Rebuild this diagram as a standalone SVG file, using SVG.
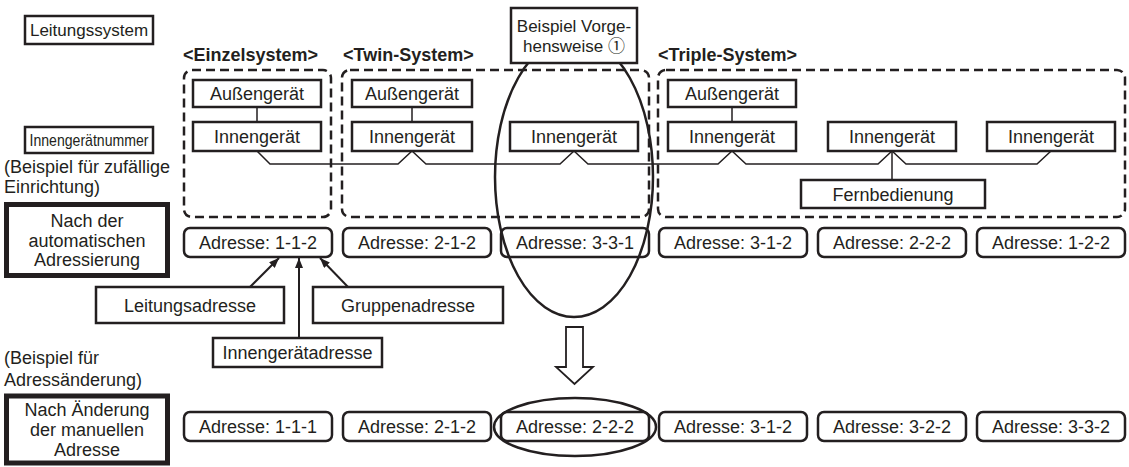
<svg xmlns="http://www.w3.org/2000/svg" width="1129" height="467" viewBox="0 0 1129 467">
<defs>
<style>
text{font-family:"Liberation Sans","Noto Sans CJK JP",sans-serif;font-size:18px;fill:#231f20;text-anchor:middle}
.l{text-anchor:start}
.h{font-weight:bold;text-anchor:start}
.box{fill:#fff;stroke:#231f20;stroke-width:2.5}
.thick{fill:#fff;stroke:#231f20;stroke-width:5}
.adr{fill:#fff;stroke:#231f20;stroke-width:2.5}
.dash{fill:none;stroke:#231f20;stroke-width:2.5;stroke-dasharray:9 5}
.ln{fill:none;stroke:#231f20;stroke-width:1.5}
.arr{fill:none;stroke:#231f20;stroke-width:2}
.ell{fill:none;stroke:#231f20;stroke-width:2.5}
</style>
<marker id="ah" markerUnits="userSpaceOnUse" markerWidth="10" markerHeight="8" refX="10" refY="4" orient="auto">
<path d="M0,0 L10,4 L0,8 z" fill="#231f20"/>
</marker>
</defs>
<rect width="1129" height="467" fill="#fff"/>

<g id="labels">
<rect class="box" x="25" y="16" width="128" height="28"/>
<text x="89" y="36" style="font-size:17px">Leitungssystem</text>
<rect class="box" x="25" y="127" width="128" height="26"/>
<text x="89" y="146" style="font-size:17px" textLength="119" lengthAdjust="spacingAndGlyphs">Innengerätnummer</text>
<text class="l" x="4" y="173">(Beispiel für zufällige</text>
<text class="l" x="4" y="193">Einrichtung)</text>
<text class="l" x="4" y="364">(Beispiel für</text>
<text class="l" x="4" y="386">Adressänderung)</text>
</g>

<g id="headers">
<text class="h" x="183" y="61">&lt;Einzelsystem&gt;</text>
<text class="h" x="343" y="61">&lt;Twin-System&gt;</text>
<text class="h" x="658" y="61">&lt;Triple-System&gt;</text>
</g>

<g id="system-frames">
<rect class="dash" x="184" y="70" width="147" height="147" rx="8"/>
<rect class="dash" x="342" y="70" width="307" height="147" rx="8"/>
<rect class="dash" x="658" y="70" width="467" height="147" rx="8"/>
</g>

<g id="connectors">
<path class="ln" d="M257,107 V122 M412,107 V122 M732,107 V122"/>
<path class="ln" d="M257,151 L270,164 H398 L412,151 L426,164 H560 L574,151 L588,164 H718 L732,151 L746,164 H878 L892,151 L906,164 H1037 L1051,151"/>
<path class="ln" d="M892,151 V180"/>
<path class="arr" d="M250,287 L279,258" marker-end="url(#ah)"/>
<path class="arr" d="M299,338 V258" marker-end="url(#ah)"/>
<path class="arr" d="M348,287 L320,258" marker-end="url(#ah)"/>
<path d="M566,327 H583 V367 H593 L574.5,384 L556,367 H566 Z" fill="#fff" stroke="#231f20" stroke-width="1.8" stroke-linejoin="miter"/>
</g>

<g id="einzel-aussen"><rect class="box" x="193" y="80" width="128" height="27"/><text x="257" y="100">Außengerät</text></g>
<g id="einzel-innen"><rect class="box" x="193" y="122" width="128" height="29"/><text x="257" y="143">Innengerät</text></g>
<g id="twin-aussen"><rect class="box" x="352" y="80" width="120" height="27"/><text x="412" y="100">Außengerät</text></g>
<g id="twin-innen1"><rect class="box" x="352" y="122" width="120" height="29"/><text x="412" y="143">Innengerät</text></g>
<g id="twin-innen2"><rect class="box" x="510" y="122" width="128" height="29"/><text x="574" y="143">Innengerät</text></g>
<g id="triple-aussen"><rect class="box" x="668" y="80" width="128" height="27"/><text x="732" y="100">Außengerät</text></g>
<g id="triple-innen1"><rect class="box" x="668" y="122" width="128" height="29"/><text x="732" y="143">Innengerät</text></g>
<g id="triple-innen2"><rect class="box" x="828" y="122" width="128" height="29"/><text x="892" y="143">Innengerät</text></g>
<g id="triple-innen3"><rect class="box" x="987" y="122" width="128" height="29"/><text x="1051" y="143">Innengerät</text></g>
<g id="fernbedienung"><rect class="box" x="801" y="180" width="184" height="28"/><text x="893" y="200.5">Fernbedienung</text></g>

<g id="auto-label"><rect class="thick" x="6.5" y="204.5" width="161" height="71"/>
<text x="87" y="227">Nach der</text><text x="87" y="247">automatischen</text><text x="87" y="266">Adressierung</text></g>
<g id="manual-label"><rect class="thick" x="6.5" y="396" width="161" height="67"/>
<text x="87" y="416">Nach Änderung</text><text x="87" y="436">der manuellen</text><text x="87" y="456">Adresse</text></g>

<g id="adr-row1">
<rect class="adr" x="184" y="228" width="148" height="29" rx="6"/><text x="258" y="249">Adresse: 1-1-2</text>
<rect class="adr" x="343" y="228" width="148" height="29" rx="6"/><text x="417" y="249">Adresse: 2-1-2</text>
<rect class="adr" x="501" y="228" width="148" height="29" rx="6"/><text x="575" y="249">Adresse: 3-3-1</text>
<rect class="adr" x="659" y="228" width="148" height="29" rx="6"/><text x="733" y="249">Adresse: 3-1-2</text>
<rect class="adr" x="818" y="228" width="148" height="29" rx="6"/><text x="892" y="249">Adresse: 2-2-2</text>
<rect class="adr" x="977" y="228" width="148" height="29" rx="6"/><text x="1051" y="249">Adresse: 1-2-2</text>
</g>
<g id="adr-row2">
<rect class="adr" x="184" y="412" width="148" height="29" rx="6"/><text x="258" y="433">Adresse: 1-1-1</text>
<rect class="adr" x="343" y="412" width="148" height="29" rx="6"/><text x="417" y="433">Adresse: 2-1-2</text>
<rect class="adr" x="501" y="412" width="148" height="29" rx="6"/><text x="575" y="433">Adresse: 2-2-2</text>
<rect class="adr" x="659" y="412" width="148" height="29" rx="6"/><text x="733" y="433">Adresse: 3-1-2</text>
<rect class="adr" x="818" y="412" width="148" height="29" rx="6"/><text x="892" y="433">Adresse: 3-2-2</text>
<rect class="adr" x="977" y="412" width="148" height="29" rx="6"/><text x="1051" y="433">Adresse: 3-3-2</text>
</g>

<g id="address-parts">
<g id="leitungsadresse"><rect class="box" x="96" y="287" width="188" height="36"/><text x="190" y="311.5">Leitungsadresse</text></g>
<g id="gruppenadresse"><rect class="box" x="313" y="287" width="190" height="36"/><text x="408" y="311.5">Gruppenadresse</text></g>
<g id="innengeraetadresse"><rect class="box" x="213" y="338" width="169" height="29"/><text x="297.5" y="359">Innengerätadresse</text></g>
</g>

<g id="highlights">
<ellipse class="ell" cx="574" cy="177" rx="79" ry="140"/>
<ellipse class="ell" cx="575" cy="427" rx="81" ry="29"/>
</g>

<g id="beispiel">
<rect class="box" x="511" y="8" width="126" height="55"/>
<text x="574" y="32" style="font-size:17px">Beispiel Vorge-</text>
<text x="574" y="52" style="font-size:17px">hensweise ①</text>
</g>
</svg>
